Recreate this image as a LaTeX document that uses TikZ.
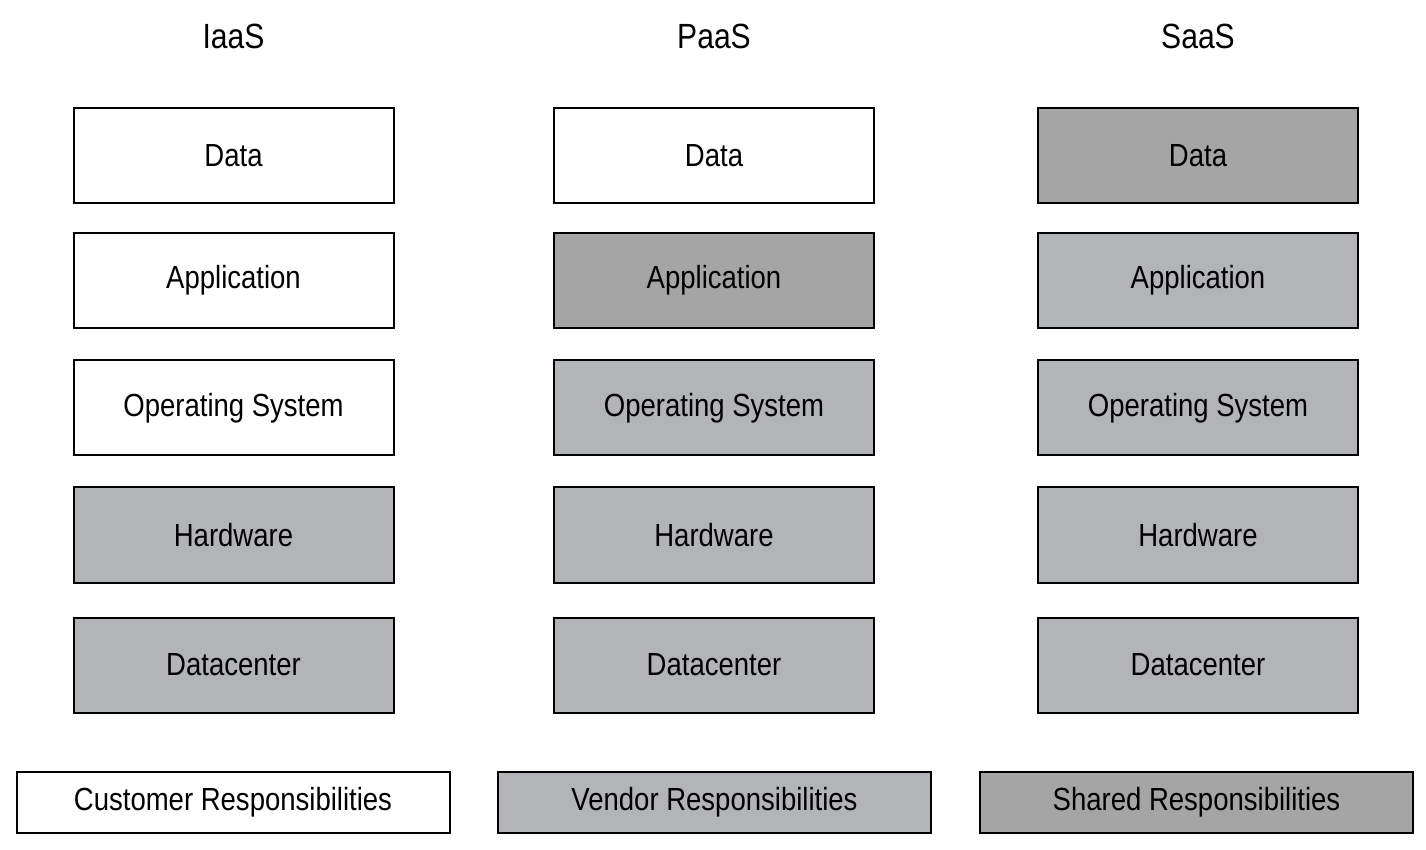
\documentclass[tikz,border=0pt]{standalone}
\usepackage{fontspec}
\setmainfont{Liberation Sans}[FakeStretch=0.86]
\definecolor{vendorgray}{HTML}{B3B4B8}
\definecolor{sharedgray}{HTML}{A5A5A5}
\begin{document}
\begin{tikzpicture}[x=0.5pt,y=-0.5pt,
  layer/.style={draw=black,line width=1pt,minimum width=160pt,minimum height=47.5pt,
    inner sep=0pt,font=\fontsize{16}{18}\selectfont},
  cust/.style={layer,fill=white},
  vend/.style={layer,fill=vendorgray},
  shar/.style={layer,fill=sharedgray},
  legendbox/.style={draw=black,line width=1pt,minimum width=216.5pt,minimum height=30.5pt,
    inner sep=0pt,font=\fontsize{16}{18}\selectfont},
  header/.style={font=\fontsize{17.5}{20}\selectfont,inner sep=0pt}]
\useasboundingbox (0,0) rectangle (1426,850);
% column headings
\node[header] (hI) at (233.5,36) {IaaS};
\node[header] (hP) at (714,36) {PaaS};
\node[header] (hS) at (1198,36) {SaaS};
% IaaS stack
\node[cust] (iData) at (233.5,156) {Data};
\node[cust] (iApp) at (233.5,280.5) {Application};
\node[cust] (iOS) at (233.5,408) {Operating System};
\node[vend] (iHW) at (233.5,535) {Hardware};
\node[vend] (iDC) at (233.5,665) {Datacenter};
% PaaS stack
\node[cust] (pData) at (714,156) {Data};
\node[shar] (pApp) at (714,280.5) {Application};
\node[vend] (pOS) at (714,408) {Operating System};
\node[vend] (pHW) at (714,535) {Hardware};
\node[vend] (pDC) at (714,665) {Datacenter};
% SaaS stack
\node[shar] (sData) at (1198,156) {Data};
\node[vend] (sApp) at (1198,280.5) {Application};
\node[vend] (sOS) at (1198,408) {Operating System};
\node[vend] (sHW) at (1198,535) {Hardware};
\node[vend] (sDC) at (1198,665) {Datacenter};
% legend
\node[legendbox,fill=white] (lC) at (233,802.5) {Customer Responsibilities};
\node[legendbox,fill=vendorgray] (lV) at (714.5,802.5) {Vendor Responsibilities};
\node[legendbox,fill=sharedgray] (lS) at (1196.5,802.5) {Shared Responsibilities};
\end{tikzpicture}
\end{document}
